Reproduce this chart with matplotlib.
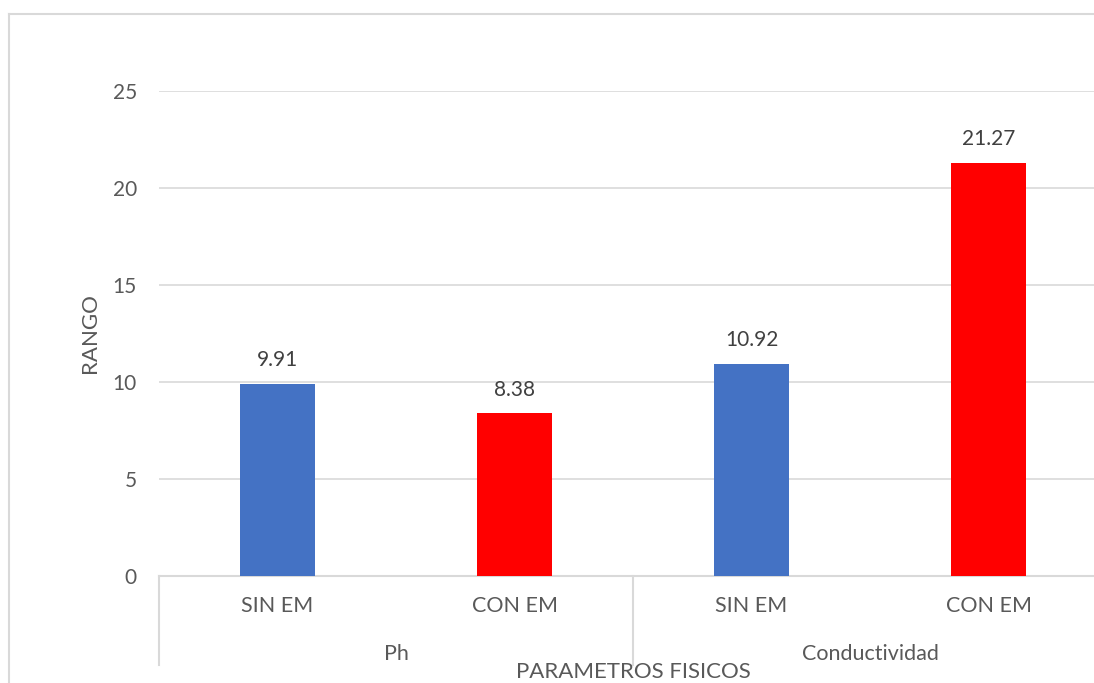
import matplotlib
matplotlib.use("Agg")
import matplotlib.pyplot as plt
from matplotlib.lines import Line2D

# datos
categorias = ['SIN EM', 'CON EM', 'SIN EM', 'CON EM']
grupos = ['Ph', 'Conductividad']
valores = [9.91, 8.38, 10.92, 21.27]
colores = ['#4472C4', '#FF0000', '#4472C4', '#FF0000']
y_ticks = [0, 5, 10, 15, 20, 25]

plt.rcParams['font.family'] = ['Lato', 'DejaVu Sans']

W, H = 1094, 683
fig = plt.figure(figsize=(W / 100, H / 100), dpi=100)
# area de trazado en pixeles
x0, x1, y0, y1 = 159, 1107, 576, 91
ax = fig.add_axes([x0 / W, 1 - y0 / H, (x1 - x0) / W, (y0 - y1) / H])

x = list(range(len(categorias)))
ax.bar(x, valores, width=0.316, color=colores, zorder=3)
for xi, v in zip(x, valores):
    ax.annotate(f'{v:.2f}', (xi, v), xytext=(0, 10), textcoords='offset points',
                ha='center', va='bottom', fontsize=15, color='#404040')

ax.set_xlim(-0.5, len(categorias) - 0.5)
ax.set_ylim(0, 25)
ax.set_yticks(y_ticks)
ax.set_yticklabels([str(t) for t in y_ticks], fontsize=15, color='#595959')
ax.tick_params(axis='y', length=0, pad=16)
ax.set_xticks([])
ax.grid(axis='y', color='#d9d9d9', linewidth=1.2, zorder=0)
for s in ['top', 'right', 'left']:
    ax.spines[s].set_visible(False)
ax.spines['bottom'].set_color('#d9d9d9')
ax.spines['bottom'].set_linewidth(1.5)

tr = ax.get_xaxis_transform()
for xi, c in zip(x, categorias):
    ax.text(xi, -0.062, c, transform=tr, ha='center', va='center',
            fontsize=15.5, color='#595959')
for i, g in enumerate(grupos):
    ax.text(2 * i + 0.5, -0.16, g, transform=tr, ha='center', va='center',
            fontsize=15.5, color='#595959')
for xs in [-0.5, 1.5, 3.5]:
    ax.plot([xs, xs], [0, -0.184], transform=tr, color='#d9d9d9',
            linewidth=1.5, clip_on=False)

ax.text(0.5, -0.198, 'PARAMETROS FISICOS', transform=ax.transAxes,
        ha='center', va='center', fontsize=16, color='#595959')
fig.text(90 / W, 1 - 333 / H, 'RANGO', rotation=90, ha='center', va='center',
         fontsize=16, color='#595959')

# borde exterior del grafico
fig.add_artist(Line2D([9 / W, 9 / W], [0, 1 - 14 / H], color='#d9d9d9', linewidth=1.5))
fig.add_artist(Line2D([9 / W, 1], [1 - 14 / H, 1 - 14 / H], color='#d9d9d9', linewidth=1.5))

fig.savefig('out.png', dpi=100)
